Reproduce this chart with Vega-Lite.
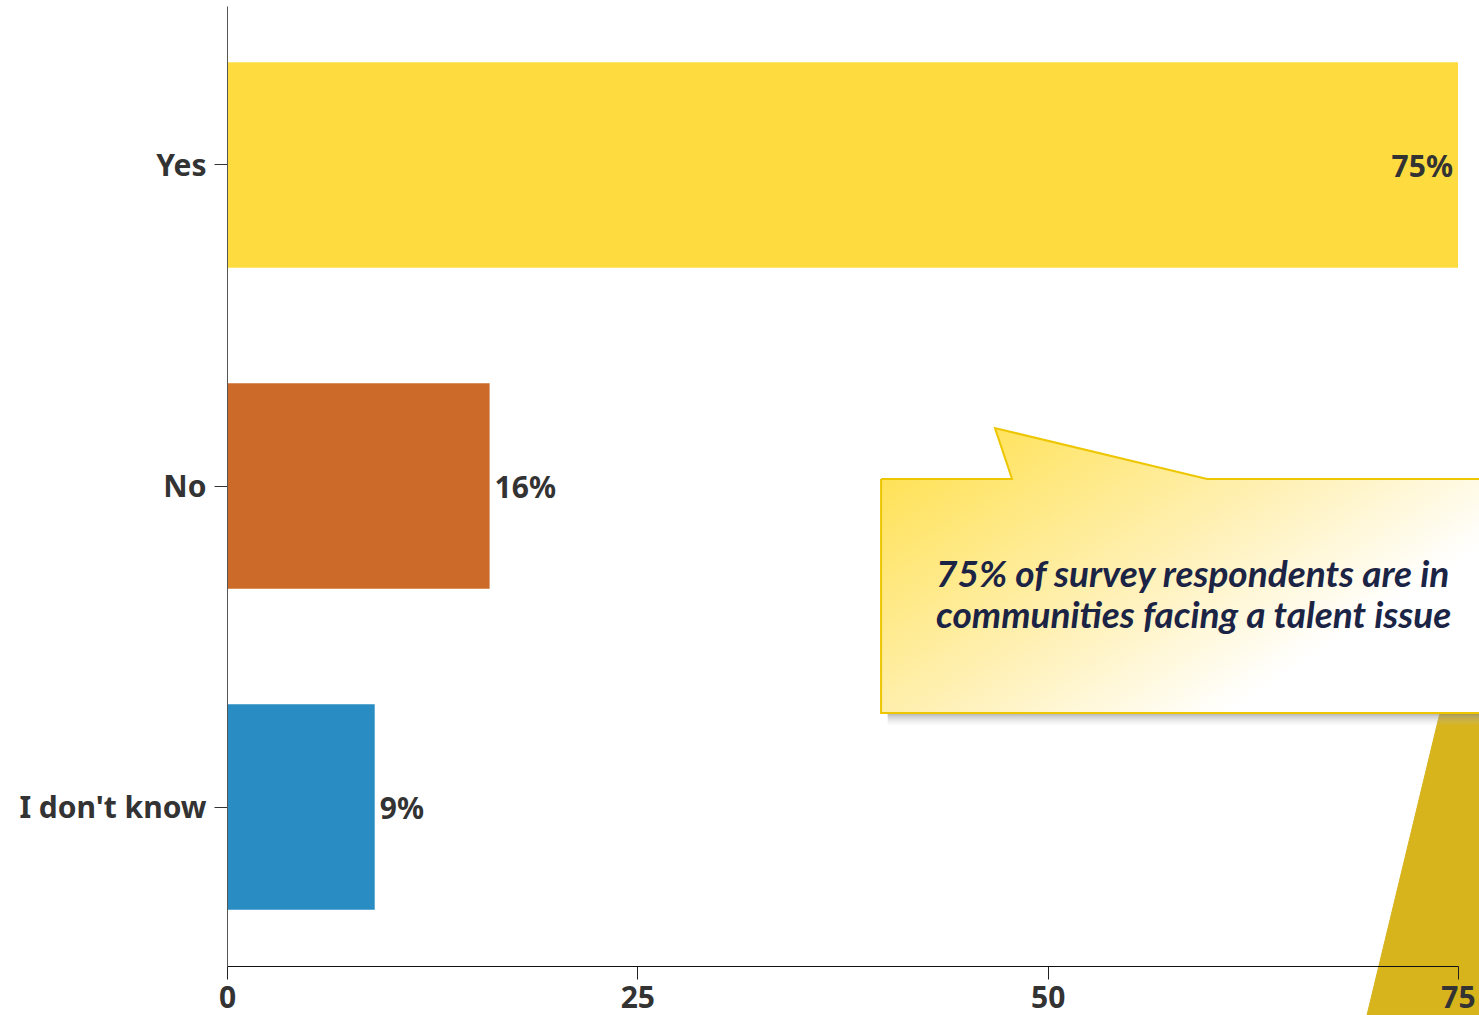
{
  "$schema": "https://vega.github.io/schema/vega-lite/v6.json",
  "width": 1231,
  "height": 960,
  "autosize": {"type": "none"},
  "padding": {"left": 227, "top": 6, "right": 21, "bottom": 49},
  "background": "white",
  "config": {"view": {"stroke": null}, "font": "Noto Sans"},
  "datasets": {
    "bars": [
      {"answer": "Yes", "pct": 75},
      {"answer": "No", "pct": 16},
      {"answer": "I don't know", "pct": 9}
    ],
    "gold": [
      {"i": 0, "x": 74.09, "v": 2.169},
      {"i": 1, "x": 69.46, "v": 3.153},
      {"i": 2, "x": 81.21, "v": 3.153},
      {"i": 3, "x": 81.21, "v": 2.169},
      {"i": 4, "x": 74.09, "v": 2.169}
    ],
    "shadow": [
      {"x": 40.25, "x2": 81.21, "v": 2.2, "v2": 2.25}
    ],
    "callout": [
      {"i": 0, "x": 39.85, "v": 1.478},
      {"i": 1, "x": 47.83, "v": 1.478},
      {"i": 2, "x": 46.79, "v": 1.319},
      {"i": 3, "x": 59.71, "v": 1.478},
      {"i": 4, "x": 81.21, "v": 1.478},
      {"i": 5, "x": 81.21, "v": 2.209},
      {"i": 6, "x": 39.85, "v": 2.209},
      {"i": 7, "x": 39.85, "v": 1.478}
    ],
    "note": [
      {"x": 43.2, "v": 1.816, "text": "75% of survey respondents are in\ncommunities facing a talent issue"}
    ]
  },
  "layer": [
    {
      "layer": [
        {
          "data": {"name": "bars"},
          "mark": {"type": "bar"},
          "encoding": {
            "y": {
              "field": "answer", "type": "nominal",
              "sort": ["Yes", "No", "I don't know"],
              "scale": {"paddingInner": 0.36, "paddingOuter": 0.175},
              "axis": {
                "title": null, "labelFontSize": 30, "labelFontWeight": "bold", "labelFont": "Noto Sans",
                "labelColor": "#333333", "labelPadding": 8, "labelLimit": 400, "labelOffset": 2, "tickSize": 13,
                "tickColor": "#333333", "domainColor": "#555555", "zindex": 1
              }
            },
            "x": {
              "field": "pct", "type": "quantitative",
              "scale": {"domain": [0, 75], "nice": false},
              "axis": {
                "title": null, "values": [0, 25, 50, 75], "grid": false, "labelFont": "Noto Sans",
                "labelFontSize": 30, "labelFontWeight": "bold", "labelColor": "#333333",
                "labelPadding": 4, "tickSize": 13, "tickColor": "#222222",
                "domainColor": "#111111", "labelFlush": false, "labelOverlap": false, "zindex": 1
              }
            },
            "color": {
              "field": "answer", "type": "nominal",
              "scale": {"domain": ["Yes", "No", "I don't know"], "range": ["#FEDC40", "#CC6A29", "#298DC3"]},
              "legend": null
            }
          }
        },
        {
          "data": {"name": "bars"},
          "transform": [{"filter": "datum.pct >= 50"}, {"calculate": "datum.pct + '%'", "as": "lbl"}],
          "mark": {"type": "text", "align": "right", "baseline": "middle", "dx": -5, "dy": 3, "fontSize": 30, "fontWeight": "bold", "font": "Noto Sans", "color": "#333333"},
          "encoding": {
            "y": {"field": "answer", "type": "nominal", "sort": ["Yes", "No", "I don't know"]},
            "x": {"field": "pct", "type": "quantitative", "scale": {"domain": [0, 75], "nice": false}},
            "text": {"field": "lbl", "type": "nominal"}
          }
        },
        {
          "data": {"name": "bars"},
          "transform": [{"filter": "datum.pct < 50"}, {"calculate": "datum.pct + '%'", "as": "lbl"}],
          "mark": {"type": "text", "align": "left", "baseline": "middle", "dx": 5, "dy": 3, "fontSize": 30, "fontWeight": "bold", "font": "Noto Sans", "color": "#333333"},
          "encoding": {
            "y": {"field": "answer", "type": "nominal", "sort": ["Yes", "No", "I don't know"]},
            "x": {"field": "pct", "type": "quantitative", "scale": {"domain": [0, 75], "nice": false}},
            "text": {"field": "lbl", "type": "nominal"}
          }
        }
      ]
    },
    {
      "layer": [
        {
          "data": {"name": "gold"},
          "mark": {"type": "line", "clip": false, "fill": "#D7B31C", "stroke": "#D7B31C", "strokeWidth": 1},
          "encoding": {
            "x": {"field": "x", "type": "quantitative", "scale": {"domain": [0, 75], "nice": false}},
            "y": {"field": "v", "type": "quantitative", "scale": {"domain": [0, 3], "reverse": true, "nice": false, "zero": false}, "axis": null},
            "order": {"field": "i"}
          }
        },
        {
          "data": {"name": "shadow"},
          "mark": {"type": "rect", "clip": false, "color": {"gradient": "linear", "x1": 0, "y1": 0, "x2": 0, "y2": 1, "stops": [{"offset": 0, "color": "rgba(110,110,110,0.85)"}, {"offset": 0.4, "color": "rgba(150,150,150,0.45)"}, {"offset": 1, "color": "rgba(200,200,200,0)"}]}},
          "encoding": {
            "x": {"field": "x", "type": "quantitative", "scale": {"domain": [0, 75], "nice": false}},
            "x2": {"field": "x2"},
            "y": {"field": "v", "type": "quantitative", "scale": {"domain": [0, 3], "reverse": true, "nice": false, "zero": false}, "axis": null},
            "y2": {"field": "v2"}
          }
        },
        {
          "data": {"name": "callout"},
          "mark": {
            "type": "line", "clip": false, "strokeWidth": 2, "stroke": "#EDC600",
            "fill": {"gradient": "linear", "x1": 0, "y1": 0.2, "x2": 0.85, "y2": 0.75, "stops": [{"offset": 0, "color": "#FFE259"}, {"offset": 0.5, "color": "#FFF1B8"}, {"offset": 0.85, "color": "#FFFFFF"}, {"offset": 1, "color": "#FFFFFF"}]}
          },
          "encoding": {
            "x": {"field": "x", "type": "quantitative", "scale": {"domain": [0, 75], "nice": false}},
            "y": {"field": "v", "type": "quantitative", "scale": {"domain": [0, 3], "reverse": true, "nice": false, "zero": false}, "axis": null},
            "order": {"field": "i"}
          }
        },
        {
          "data": {"name": "note"},
          "mark": {"type": "text", "clip": false, "align": "left", "baseline": "alphabetic", "fontSize": 37, "fontWeight": "bold", "fontStyle": "italic", "font": "Lato", "color": "#1B2445", "lineBreak": "\n", "lineHeight": 41},
          "encoding": {
            "x": {"field": "x", "type": "quantitative", "scale": {"domain": [0, 75], "nice": false}},
            "y": {"field": "v", "type": "quantitative", "scale": {"domain": [0, 3], "reverse": true, "nice": false, "zero": false}, "axis": null},
            "text": {"field": "text"}
          }
        }
      ]
    }
  ],
  "resolve": {"scale": {"y": "independent"}}
}
